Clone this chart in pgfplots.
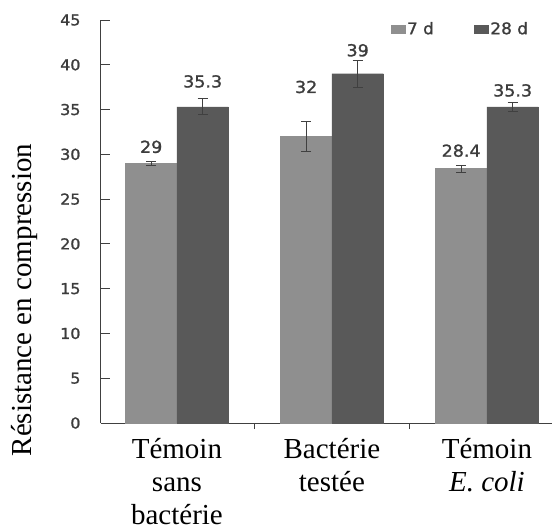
\documentclass[border=0pt]{standalone}
\usepackage{fontspec}
\setmainfont{Liberation Serif}
\newfontfamily\sansf[FakeBold=1.3, FakeStretch=1.06]{DejaVu Sans}
\usepackage{pgfplots}
\pgfplotsset{compat=1.18}
\usepackage{pgfplotstable}
\definecolor{lightbar}{HTML}{8F8F8F}
\definecolor{darkbar}{HTML}{595959}
\definecolor{txt}{HTML}{3C3C3C}
\definecolor{axisc}{HTML}{404040}

\pgfplotstableread{
x y err off lab
0 29.0 0.2 10 29
1 32.0 1.7 43 32
2 28.4 0.4 11.5 28.4
}\sevend
\pgfplotstableread{
x y err off lab
0 35.3 0.9 19 35.3
1 39.0 1.5 17 39
2 35.3 0.5 10 35.3
}\twentyeightd

\begin{document}
\begin{tikzpicture}
\begin{axis}[
  scale only axis, width=451pt, height=403pt,
  ymin=0, ymax=45, ytick={0,5,...,45},
  xmin=-0.49, xmax=2.42,
  xtick={0,1,2},
  minor xtick={0.5,1.5},
  xticklabels={{Témoin\\sans\\bactérie},{Bactérie\\testée},{Témoin\\\textit{E. coli}}},
  axis x line*=bottom, axis y line*=left,
  axis line style={-, draw=axisc, line width=1pt},
  major x tick style={draw=none},
  minor x tick style={draw=axisc, line width=1pt},
  y tick style={draw=axisc, line width=1pt},
  tick align=inside, major tick length=9pt, minor tick length=6pt,
  /pgf/number format/assume math mode=true,
  yticklabel style={font=\sansf\fontsize{15}{18}\selectfont, text=txt, xshift=-17pt},
  xticklabel style={font=\fontsize{29}{33}\selectfont, align=center, text=black, yshift=-3pt},
  ylabel={Résistance en compression},
  ylabel style={at={(axis description cs:-0.1685,0.305)}, anchor=center, font=\fontsize{29}{33}\selectfont},
  ybar=0pt, bar width=51.5pt,
  legend style={at={(axis description cs:0.635,0.978)}, anchor=west, draw=none, fill=none,
    font=\sansf\fontsize{16}{19}\selectfont, text=txt,
    /tikz/every even column/.append style={column sep=38pt}},
  legend columns=2,
  legend image code/.code={\fill[#1] (0pt,-4pt) rectangle (14pt,4pt);},
  nodes near coords,
  point meta=explicit symbolic,
  visualization depends on={\thisrow{off} \as \myoff},
  nodes near coords style={font=\sansf\fontsize{16.5}{19}\selectfont, text=txt, inner sep=0pt, anchor=south, yshift=\myoff pt},
]
\addplot[fill=lightbar, draw=lightbar,
  error bars/.cd, y dir=both, y explicit,
  error bar style={color=axisc, line width=1pt},
  error mark options={rotate=90, mark size=5pt, line width=1pt, color=axisc}]
  table[x=x, y=y, y error=err, meta=lab] {\sevend};
\addlegendentry{7 d}
\addplot[fill=darkbar, draw=darkbar,
  error bars/.cd, y dir=both, y explicit,
  error bar style={color=axisc, line width=1pt},
  error mark options={rotate=90, mark size=5pt, line width=1pt, color=axisc}]
  table[x=x, y=y, y error=err, meta=lab] {\twentyeightd};
\addlegendentry{28 d}
\coordinate (SW) at (rel axis cs:0,0);
\coordinate (NE) at (rel axis cs:1,1);
\end{axis}
\pgfresetboundingbox
\path[use as bounding box] ([xshift=-101pt,yshift=-108pt]SW) rectangle ([xshift=1pt,yshift=20pt]NE);
\end{tikzpicture}
\end{document}
